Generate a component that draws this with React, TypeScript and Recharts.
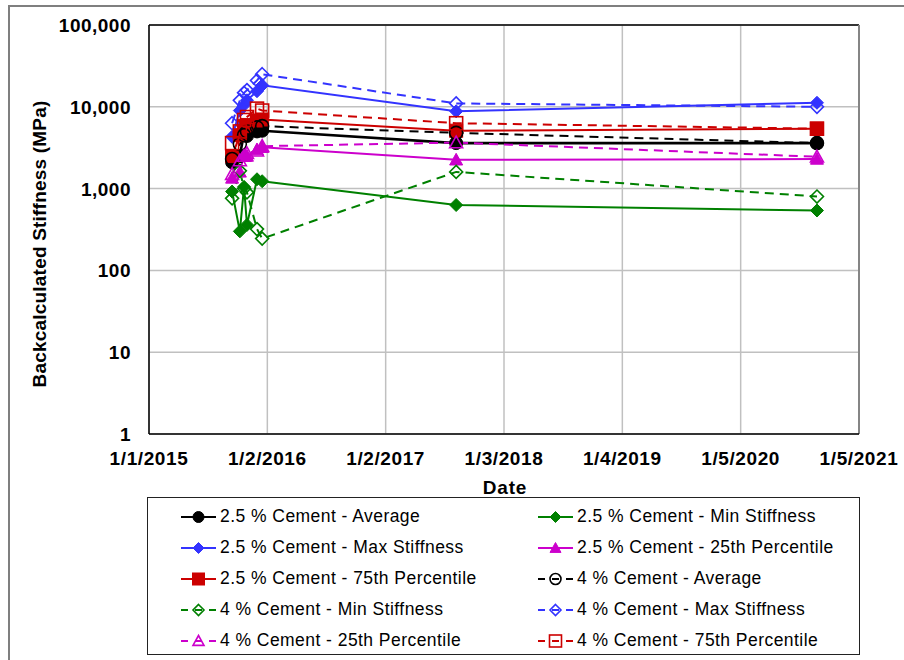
import { LineChart, Line, XAxis, YAxis, CartesianGrid, ReferenceLine } from "recharts";

// days counted from 1/1/2015
const days = [257, 281, 294, 303, 334, 350, 950, 2066];
const xTicks = [0, 366, 732, 1098, 1464, 1830, 2196];
const xTickLabels = ["1/1/2015", "1/2/2016", "1/2/2017", "1/3/2018", "1/4/2019", "1/5/2020", "1/5/2021"];
const yTicks = [1, 10, 100, 1000, 10000, 100000];

const avg25 = [2100, 2500, 4800, 4400, 5000, 5100, 3600, 3600];
const min25 = [920, 300, 1050, 360, 1300, 1230, 630, 540];
const max25 = [4300, 9000, 10500, 12000, 15500, 18300, 8800, 11200];
const p25of25 = [1350, 1600, 2600, 2500, 3000, 3200, 2250, 2300];
const p75of25 = [2500, 4500, 5800, 6000, 6800, 7000, 5100, 5400];
const avg4 = [2300, 3500, 4500, 5000, 5600, 5800, 4800, 3600];
const min4 = [760, 1650, 1000, 900, 320, 245, 1600, 800];
const max4 = [6300, 12000, 14800, 16000, 21000, 25000, 11000, 10000];
const p25of4 = [1500, 2200, 2500, 2700, 2900, 3300, 3650, 2450];
const p75of4 = [3600, 5000, 6900, 7500, 9500, 9000, 6300, 5400];

const BLACK = "#000000";
const GREEN = "#008000";
const BLUE = "#3333ff";
const MAGENTA = "#cc00cc";
const RED = "#cc0000";

type Shape = "circle" | "diamond" | "square" | "triangle";

const series = [
  { key: "avg25", name: "2.5 % Cement - Average", values: avg25, color: BLACK, shape: "circle", filled: true, dashed: false },
  { key: "min25", name: "2.5 % Cement - Min Stiffness", values: min25, color: GREEN, shape: "diamond", filled: true, dashed: false },
  { key: "max25", name: "2.5 % Cement - Max Stiffness", values: max25, color: BLUE, shape: "diamond", filled: true, dashed: false },
  { key: "p25of25", name: "2.5 % Cement - 25th Percentile", values: p25of25, color: MAGENTA, shape: "triangle", filled: true, dashed: false },
  { key: "p75of25", name: "2.5 % Cement - 75th Percentile", values: p75of25, color: RED, shape: "square", filled: true, dashed: false },
  { key: "avg4", name: "4 % Cement - Average", values: avg4, color: BLACK, shape: "circle", filled: false, dashed: true },
  { key: "min4", name: "4 % Cement - Min Stiffness", values: min4, color: GREEN, shape: "diamond", filled: false, dashed: true },
  { key: "max4", name: "4 % Cement - Max Stiffness", values: max4, color: BLUE, shape: "diamond", filled: false, dashed: true },
  { key: "p25of4", name: "4 % Cement - 25th Percentile", values: p25of4, color: MAGENTA, shape: "triangle", filled: false, dashed: true },
  { key: "p75of4", name: "4 % Cement - 75th Percentile", values: p75of4, color: RED, shape: "square", filled: false, dashed: true },
] as { key: string; name: string; values: number[]; color: string; shape: Shape; filled: boolean; dashed: boolean }[];

const data = days.map((d, i) => {
  const row: Record<string, number> = { d };
  series.forEach((s) => (row[s.key] = s.values[i]));
  return row;
});

const FONT = '"Liberation Sans", Arial, sans-serif';

function Marker({ cx, cy, shape, color, filled, s = 6.5 }: { cx: number; cy: number; shape: Shape; color: string; filled: boolean; s?: number }) {
  const fill = filled ? color : "none";
  const sw = filled ? 1 : 1.6;
  if (shape === "circle") return <circle cx={cx} cy={cy} r={s} fill={fill} stroke={color} strokeWidth={sw} />;
  if (shape === "square")
    return <rect x={cx - s} y={cy - s} width={2 * s} height={2 * s} fill={fill} stroke={color} strokeWidth={sw} />;
  if (shape === "triangle")
    return (
      <polygon
        points={`${cx},${cy - s} ${cx + s},${cy + s * 0.8} ${cx - s},${cy + s * 0.8}`}
        fill={fill}
        stroke={color}
        strokeWidth={sw}
      />
    );
  return (
    <polygon
      points={`${cx},${cy - s} ${cx + s},${cy} ${cx},${cy + s} ${cx - s},${cy}`}
      fill={fill}
      stroke={color}
      strokeWidth={sw}
    />
  );
}

const XTick = (p: any) => (
  <text x={p.x} y={465} textAnchor="middle" fontFamily={FONT} fontSize={19} fontWeight="bold" letterSpacing={0.6} fill="#000">
    {xTickLabels[xTicks.indexOf(p.payload.value)]}
  </text>
);

const YTick = (p: any) => (
  <text x={131} y={p.y + 7} textAnchor="end" fontFamily={FONT} fontSize={19} fontWeight="bold" letterSpacing={0.5} fill="#000">
    {Number(p.payload.value).toLocaleString("en-US")}
  </text>
);

function LegendItem({ s }: { s: (typeof series)[number] }) {
  return (
    <div style={{ display: "flex", alignItems: "center", height: 31 }}>
      <svg width={36} height={18} style={{ marginRight: 3 }}>
        <line
          x1={0}
          y1={9}
          x2={35}
          y2={9}
          stroke={s.color}
          strokeWidth={2}
          strokeDasharray={s.dashed ? "7 7" : undefined}
        />
        <Marker cx={17.5} cy={9} shape={s.shape} color={s.color} filled={s.filled} s={s.shape === "square" ? 6 : 5.5} />
      </svg>
      <span style={{ fontFamily: FONT, fontSize: 17.5, letterSpacing: 0.45, color: "#000", whiteSpace: "nowrap" }}>{s.name}</span>
    </div>
  );
}

export default function App() {
  return (
    <div style={{ position: "absolute", left: 0, top: 0, width: 904, height: 660, overflow: "hidden", background: "#fff" }}>
      <div style={{ position: "absolute", left: 8, top: 5, width: 960, height: 720, border: "2px solid #7f7f7f" }} />
      <div style={{ position: "absolute", left: 0, top: 0 }}>
        <LineChart width={904} height={660} data={data} margin={{ top: 25, right: 45, bottom: 186, left: 0 }}>
          <CartesianGrid stroke="#c0c0c0" strokeWidth={1.5} />
          <XAxis
            type="number"
            dataKey="d"
            domain={[0, 2196]}
            ticks={xTicks}
            interval={0}
            height={40}
            tick={XTick}
            tickLine={false}
            axisLine={{ stroke: "#000", strokeWidth: 1.5 }}
          />
          <YAxis
            scale="log"
            domain={[1, 100000]}
            ticks={yTicks}
            interval={0}
            width={149}
            allowDataOverflow
            tick={YTick}
            tickLine={false}
            axisLine={{ stroke: "#000", strokeWidth: 1.5 }}
          />
          <ReferenceLine y={100000} stroke="#000" strokeWidth={1.5} />
          <ReferenceLine x={2196} stroke="#858585" strokeWidth={2} />
          {series.map((s) => (
            <Line
              key={s.key}
              dataKey={s.key}
              type="linear"
              stroke={s.color}
              strokeWidth={s.key === "avg25" ? 2.6 : 2}
              strokeDasharray={s.dashed ? "9 6" : undefined}
              isAnimationActive={false}
              dot={(p: any) =>
                p.cx == null || p.cy == null ? (
                  <g key={p.index} />
                ) : (
                  <Marker key={p.index} cx={p.cx} cy={p.cy} shape={s.shape} color={s.color} filled={s.filled} />
                )
              }
              activeDot={false}
            />
          ))}
        </LineChart>
      </div>
      <svg width={904} height={660} style={{ position: "absolute", left: 0, top: 0, pointerEvents: "none" }}>
        <text
          x={46}
          y={244}
          transform="rotate(-90 46 244)"
          textAnchor="middle"
          fontFamily={FONT}
          fontSize={19}
          fontWeight="bold"
          letterSpacing={0.2}
        >
          Backcalculated Stiffness (MPa)
        </text>
        <text x={505} y={494} textAnchor="middle" fontFamily={FONT} fontSize={19} fontWeight="bold" letterSpacing={0.8}>
          Date
        </text>
      </svg>
      <div
        style={{
          position: "absolute",
          left: 147,
          top: 497,
          width: 713,
          height: 158,
          border: "1.5px solid #222",
          boxSizing: "border-box",
          display: "grid",
          gridTemplateColumns: "357px 356px",
          paddingTop: 3,
        }}
      >
        {series.map((s) => (
          <div key={s.key} style={{ paddingLeft: 33 }}>
            <LegendItem s={s} />
          </div>
        ))}
      </div>
    </div>
  );
}
